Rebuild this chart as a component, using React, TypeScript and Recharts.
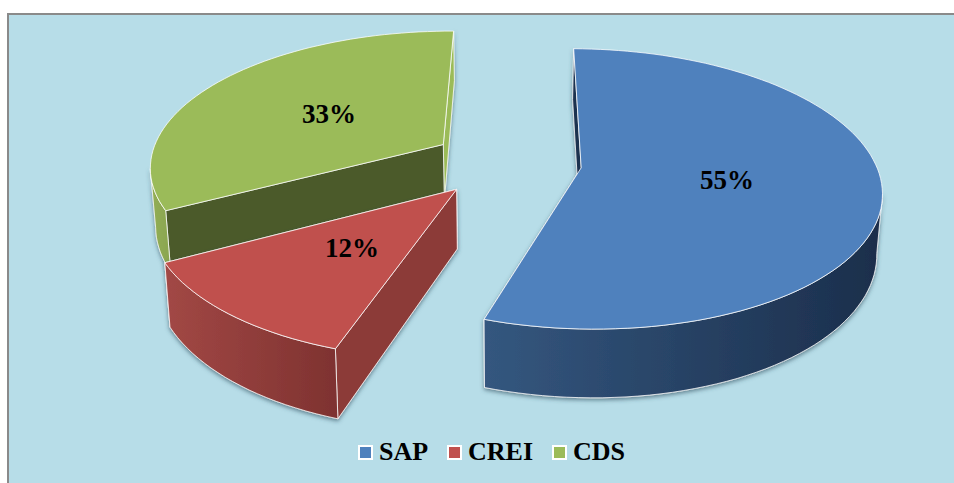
import React from "react";
import { PieChart, Pie, Cell, Legend } from "recharts";

const categories = ["SAP", "CREI", "CDS"];
const values = [55, 12, 33];
const drawOrder = [2, 1, 0];
const pieData = drawOrder.map((i) => ({ name: categories[i], value: values[i] }));

const START_ANGLE = 89.5;
const TILT = 0.46;
const K = 0.15;
const EXPLODE = 0.256;
const DEPTH = 58;
const CONV = 0.015;
const LABEL_FRAC = 0.49;
const LABEL_DY = 1.5;

const topColors: Record<string, string> = { SAP: "#4f81bd", CREI: "#c0504d", CDS: "#9bbb59" };
const sideStops: Record<string, [string, string]> = {
  SAP: ["#34577f", "#1b2e4b"],
  CREI: ["#a24845", "#7e3230"],
  CDS: ["#93ae55", "#8aa550"],
};
const startFace: Record<string, string> = { SAP: "#1d3250", CREI: "#8c3b39", CDS: "#9bbb59" };
const endFace: Record<string, string> = { SAP: "#1d3250", CREI: "#8c3b39", CDS: "#4b5a2a" };

const rad = (d: number) => (d * Math.PI) / 180;

function makeProjector(cx: number, cy: number, R: number, midAngle: number) {
  const ex = EXPLODE * Math.cos(rad(midAngle));
  const ey = -EXPLODE * Math.sin(rad(midAngle));
  return (u: number, v: number, low = false): [number, number] => {
    const X = u + ex;
    const Y = v + ey;
    const w = 1 - K * Y;
    let x = cx + (R * X) / w;
    let y = cy + (R * TILT * Y) / w;
    if (low) {
      x = cx + (x - cx) * (1 - CONV);
      y += DEPTH / w;
    }
    return [x, y];
  };
}

const toPath = (pts: [number, number][]) =>
  "M" + pts.map((p) => `${p[0].toFixed(1)},${p[1].toFixed(1)}`).join("L") + "Z";

function samples(a: number, b: number) {
  const n = Math.max(2, Math.ceil(Math.abs(b - a) / 2));
  const out: number[] = [];
  for (let i = 0; i <= n; i++) out.push(a + ((b - a) * i) / n);
  return out;
}

function Slice3D(props: any) {
  const { cx, cy, outerRadius, startAngle, endAngle, midAngle, name } = props;
  const label = name ?? props.payload?.name;
  const p = makeProjector(cx, cy, outerRadius, midAngle);
  const at = (deg: number, low = false) => p(Math.cos(rad(deg)), -Math.sin(rad(deg)), low);
  const apex = p(0, 0);
  const apexLow = p(0, 0, true);

  const top = [apex, ...samples(startAngle, endAngle).map((d) => at(d))];

  // outer wall: only the part of the rim facing the viewer
  const vis: number[] = samples(startAngle, endAngle).filter((d) => Math.sin(rad(d)) < -K);
  const wall = vis.length > 1 ? [...vis.map((d) => at(d)), ...[...vis].reverse().map((d) => at(d, true))] : null;

  const startQuad = [apex, at(startAngle), at(startAngle, true), apexLow];
  const endQuad = [apex, at(endAngle), at(endAngle, true), apexLow];
  const gid = `side-${label}`;
  const stroke = { stroke: "#ffffff", strokeWidth: 0.9, strokeOpacity: 0.85, strokeLinejoin: "round" as const };

  return (
    <g>
      <defs>
        <linearGradient id={gid} x1="0" y1="0" x2="1" y2="0">
          <stop offset="0%" stopColor={sideStops[label][0]} />
          <stop offset="100%" stopColor={sideStops[label][1]} />
        </linearGradient>
        <filter id={`sh-${label}`} x="-10%" y="-10%" width="120%" height="125%">
          <feDropShadow dx="0" dy="2" stdDeviation="2.2" floodColor="#33505f" floodOpacity="0.65" />
        </filter>
      </defs>
      <g filter={`url(#sh-${label})`}>
        <path d={toPath(startQuad)} fill={startFace[label]} {...stroke} />
        <path d={toPath(endQuad)} fill={endFace[label]} {...stroke} />
        {wall && <path d={toPath(wall)} fill={`url(#${gid})`} {...stroke} />}
      </g>
      <path d={toPath(top)} fill={topColors[label]} {...stroke} />
    </g>
  );
}

function renderLabel(props: any) {
  const { cx, cy, outerRadius, midAngle, value } = props;
  const p = makeProjector(cx, cy, outerRadius, midAngle);
  const [x, y] = p(LABEL_FRAC * Math.cos(rad(midAngle)), -LABEL_FRAC * Math.sin(rad(midAngle)));
  return (
    <text
      x={x}
      y={y + LABEL_DY}
      textAnchor="middle"
      dominantBaseline="central"
      fontFamily="'Liberation Serif', serif"
      fontWeight="bold"
      fontSize={27}
      fill="#000"
    >
      {`${value}%`}
    </text>
  );
}

function LegendContent(props: any) {
  const items = [...(props.payload ?? [])].sort(
    (a: any, b: any) => categories.indexOf(a.value) - categories.indexOf(b.value)
  );
  return (
    <div
      style={{
        display: "flex",
        justifyContent: "center",
        alignItems: "center",
        paddingLeft: 48,
        fontFamily: "'Liberation Serif', serif",
        fontWeight: "bold",
        fontSize: 26,
        color: "#000",
        lineHeight: "30px",
      }}
    >
      {items.map((it: any) => (
        <span key={it.value} style={{ display: "flex", alignItems: "center", marginRight: 19 }}>
          <span
            style={{
              display: "inline-block",
              width: 11,
              height: 11,
              background: topColors[it.value],
              border: "2px solid #fff",
              marginRight: 6,
            }}
          />
          {it.value}
        </span>
      ))}
    </div>
  );
}

export default function App() {
  const sector: any = Slice3D;
  return (
    <div style={{ position: "absolute", left: 0, top: 0, width: 954, height: 483, overflow: "hidden", background: "#fff" }}>
      <div
        style={{
          position: "absolute",
          left: 7,
          top: 13,
          width: 947,
          height: 470,
          boxSizing: "border-box",
          background: "#b7dde8",
          borderLeft: "2px solid #8a8a8a",
          borderTop: "2px solid #8a8a8a",
        }}
      />
      <div style={{ position: "absolute", left: 0, top: 0 }}>
        <PieChart width={954} height={483} margin={{ top: 0, right: 0, bottom: 0, left: 0 }}>
          <Pie
            data={pieData}
            dataKey="value"
            nameKey="name"
            cx={506.5}
            cy={162}
            outerRadius={294}
            startAngle={START_ANGLE}
            endAngle={START_ANGLE + 360}
            isAnimationActive={false}
            label={renderLabel}
            labelLine={false}
            shape={sector}
            inactiveShape={sector}
            activeShape={sector}
            rootTabIndex={-1}
          >
            {pieData.map((d) => (
              <Cell key={d.name} fill={topColors[d.name]} />
            ))}
          </Pie>
          <Legend content={<LegendContent />} wrapperStyle={{ left: 0, width: 954, top: 437 }} />
        </PieChart>
      </div>
    </div>
  );
}
